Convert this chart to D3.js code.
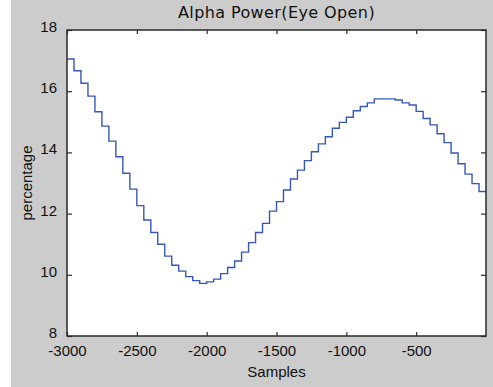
<!DOCTYPE html>
<html>
<head>
<meta charset="utf-8">
<script src="https://d3js.org/d3.v7.min.js"></script>
<style>
body { margin: 0; background: white; }
</style>
</head>
<body>
<div id="chart"></div>
<script>
// step values (one per 50 samples, from -3000)
const stepValues = [
  17.05, 16.67, 16.26, 15.84, 15.33, 14.86, 14.37, 13.86, 13.32, 12.80,
  12.26, 11.79, 11.38, 11.00, 10.61, 10.31, 10.12, 9.94, 9.81, 9.72,
  9.77, 9.86, 10.04, 10.24, 10.45, 10.74, 11.05, 11.38, 11.68, 12.08,
  12.39, 12.77, 13.13, 13.42, 13.73, 14.02, 14.28, 14.51, 14.79, 14.98,
  15.15, 15.36, 15.50, 15.62, 15.75, 15.75, 15.75, 15.71, 15.62, 15.55,
  15.34, 15.11, 14.90, 14.61, 14.32, 13.98, 13.63, 13.29, 12.98, 12.72
];
const stepStart = -3000;
const stepWidth = 50;
const xTicks = [-3000, -2500, -2000, -1500, -1000, -500];
const yTicks = [8, 10, 12, 14, 16, 18];
const xDomain = [-3000, 0];
const yDomain = [8, 18];

const width = 493, height = 387;
const marginTop = 30, marginRight = 7, marginBottom = 51, marginLeft = 67;

const data = stepValues.map((v, i) => ({ s: stepStart + i * stepWidth, v: v }));
// stairs end at the end of the last step
data.push({ s: stepStart + stepValues.length * stepWidth, v: stepValues[stepValues.length - 1] });

const x = d3.scaleLinear().domain(xDomain).range([marginLeft, width - marginRight]);
const y = d3.scaleLinear().domain(yDomain).range([height - marginBottom, marginTop]);

const svg = d3.create("svg")
    .attr("width", width)
    .attr("height", height)
    .attr("viewBox", [0, 0, width, height])
    .style("display", "block")
    .style("font-family", "'Liberation Sans', Arial, sans-serif");

// figure background
svg.append("rect")
    .attr("x", 11).attr("y", 0)
    .attr("width", width - 11).attr("height", height)
    .attr("fill", "#cccccc");

// axes area
svg.append("rect")
    .attr("x", marginLeft).attr("y", marginTop)
    .attr("width", width - marginLeft - marginRight)
    .attr("height", height - marginTop - marginBottom)
    .attr("fill", "white");

const line = d3.line()
    .x(d => x(d.s))
    .y(d => y(d.v))
    .curve(d3.curveStepAfter);

svg.append("path")
    .datum(data)
    .attr("fill", "none")
    .attr("stroke", "#3557b8")
    .attr("stroke-width", 1.4)
    .attr("d", line);

const axisColor = "#2a2a2a";
const plain = d => String(d);

// bottom axis (ticks inward)
svg.append("g")
    .attr("transform", `translate(0,${height - marginBottom})`)
    .call(d3.axisBottom(x).tickValues(xTicks).tickFormat(plain).tickSize(-4).tickPadding(9).tickSizeOuter(0))
    .call(g => g.select(".domain").remove())
    .call(g => g.selectAll(".tick line").attr("stroke", axisColor).attr("stroke-width", 1.2))
    .call(g => g.selectAll(".tick text").attr("fill", "#111").attr("font-size", 15));

// top ticks
svg.append("g")
    .attr("transform", `translate(0,${marginTop})`)
    .call(d3.axisTop(x).tickValues(xTicks).tickSize(-4).tickFormat("").tickSizeOuter(0))
    .call(g => g.select(".domain").remove())
    .call(g => g.selectAll(".tick line").attr("stroke", axisColor).attr("stroke-width", 1.2));

// left axis
svg.append("g")
    .attr("transform", `translate(${marginLeft},0)`)
    .call(d3.axisLeft(y).tickValues(yTicks).tickFormat(plain).tickSize(-5).tickPadding(10).tickSizeOuter(0))
    .call(g => g.select(".domain").remove())
    .call(g => g.selectAll(".tick line").attr("stroke", axisColor).attr("stroke-width", 1.2))
    .call(g => g.selectAll(".tick text").attr("fill", "#111").attr("font-size", 15).attr("dy", "0.1em"));

// right ticks
svg.append("g")
    .attr("transform", `translate(${width - marginRight},0)`)
    .call(d3.axisRight(y).tickValues(yTicks).tickSize(-5).tickFormat("").tickSizeOuter(0))
    .call(g => g.select(".domain").remove())
    .call(g => g.selectAll(".tick line").attr("stroke", axisColor).attr("stroke-width", 1.2));

// box
svg.append("rect")
    .attr("x", marginLeft).attr("y", marginTop)
    .attr("width", width - marginLeft - marginRight)
    .attr("height", height - marginTop - marginBottom)
    .attr("fill", "none")
    .attr("stroke", axisColor)
    .attr("stroke-width", 1.5);

// title
svg.append("text")
    .attr("x", (marginLeft + width - marginRight) / 2)
    .attr("y", 18)
    .attr("text-anchor", "middle")
    .attr("font-family", "'DejaVu Sans', Tahoma, sans-serif")
    .attr("font-size", 16)
    .attr("letter-spacing", 0.4)
    .attr("fill", "#111")
    .text("Alpha Power(Eye Open)");

// x label
svg.append("text")
    .attr("x", (marginLeft + width - marginRight) / 2)
    .attr("y", 377)
    .attr("text-anchor", "middle")
    .attr("font-size", 15)
    .attr("fill", "#111")
    .text("Samples");

// y label
svg.append("text")
    .attr("transform", `translate(32,${(marginTop + height - marginBottom) / 2}) rotate(-90)`)
    .attr("text-anchor", "middle")
    .attr("font-size", 15)
    .attr("fill", "#111")
    .text("percentage");

document.getElementById("chart").appendChild(svg.node());
</script>
</body>
</html>
